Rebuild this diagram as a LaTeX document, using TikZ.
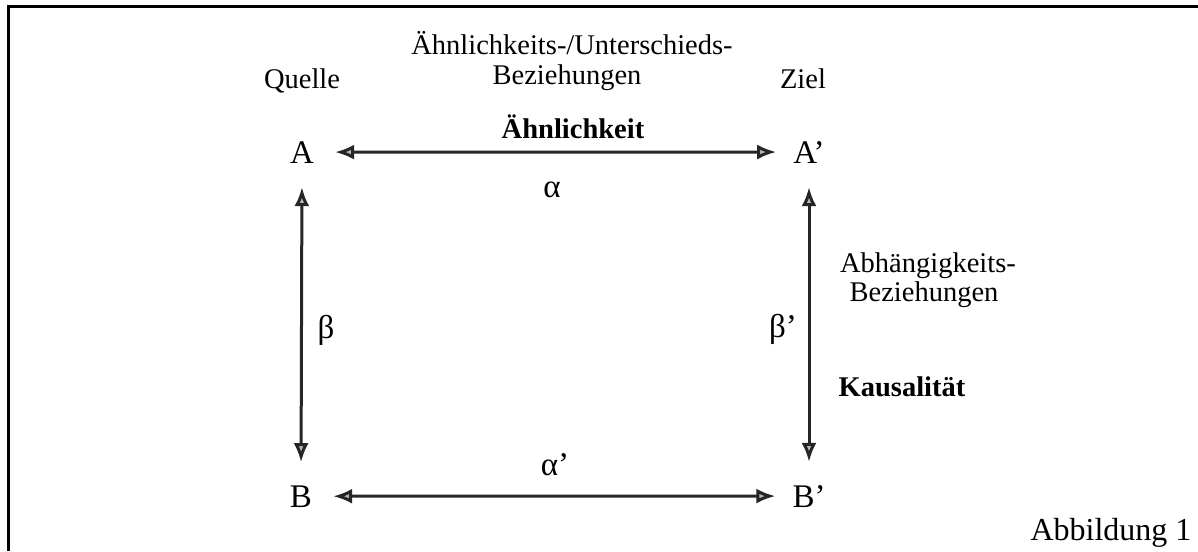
\documentclass[tikz,border=0pt]{standalone}
\usepackage{fontspec}
\setmainfont{Liberation Serif}
\usetikzlibrary{arrows.meta,positioning}

\tikzset{
  pt/.style={font=\fontsize{28.5}{32}\selectfont, inner sep=0pt, anchor=base},
  ptb/.style={pt, font=\fontsize{28.5}{32}\selectfont\bfseries},
  corner/.style={pt, font=\fontsize{33}{36}\selectfont},
  reltip/.tip={Latex[length=19pt,width=15pt,fill=gray!55]},
  rel/.style={line width=3pt, black!85, {reltip}-{reltip}}
}

\begin{document}
\begin{tikzpicture}[x=1pt,y=-1pt]
      \useasboundingbox (0,0) rectangle (1198,551);
      % Frame (top and left only)
      \draw[line width=3pt] (8,551) -- (8,7) -- (1198,7);
      % Corner nodes
      \node[corner] (a) at (302,163) {A};
      \node[corner] (a2) at (809,163) {A’};
      \node[corner] (b) at (301,507) {B};
      \node[corner] (b2) at (809,507) {B’};
      % Headings
      \node[pt] (quelle) at (302,88) {Quelle};
      \node[pt] (ziel) at (803,88) {Ziel};
      \node[pt] (aehn1) at (572,55) {Ähnlichkeits-/Unterschieds-};
      \node[pt] (aehn2) at (567,84) {Beziehungen};
      \node[ptb] (aehn) at (573,138) {Ähnlichkeit};
      % Relations
      \draw[rel, shorten <=21pt, shorten >=17pt] (a.east) -- (a2.west);
      \draw[rel, shorten <=21pt, shorten >=17pt] (b.east) -- (b2.west);
      \draw[rel, shorten <=24pt, shorten >=23pt] (a.south) -- (b.north);
      \draw[rel, shorten <=24pt, shorten >=23pt] (a2.south) -- (b2.north);
      % Relation labels
      \node[corner] (alpha) at (552,197) {α};
      \node[corner] (alpha2) at (555,475) {α’};
      \node[corner] (beta) at (326,338) {β};
      \node[corner] (beta2) at (783,337) {β’};
      % Dependency labels
      \node[pt] (abh1) at (928,272) {Abhängigkeits-};
      \node[pt] (abh2) at (924,301) {Beziehungen};
      \node[ptb] (kaus) at (902,396) {Kausalität};
      \node[pt, font=\fontsize{32}{36}\selectfont] (abb) at (1111,540) {Abbildung 1};
\end{tikzpicture}
\end{document}
